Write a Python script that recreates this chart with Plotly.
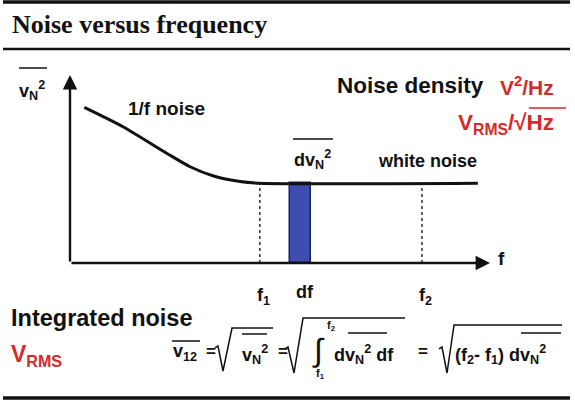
import plotly.graph_objects as go

W, H = 575, 406

# noise density curve (arbitrary units): 1/f region falling into white noise floor
freq = [0.34, 1.26, 2.30, 2.86, 3.40, 4.05, 4.52, 9.71]
density = [8.28, 7.25, 5.84, 5.12, 4.64, 4.33, 4.24, 4.24]
f1, f2 = 4.52, 8.38
df_center, df_width = 5.49, 0.5
white_level = 4.24

BLACK = '#111111'
RED = '#d42a2a'
SANS = 'Liberation Sans'


def xp(x):
    return x / W


def yp(y):
    return 1 - y / H


fig = go.Figure()

fig.add_trace(go.Scatter(
    x=freq, y=density, mode='lines',
    line=dict(color=BLACK, width=3, shape='spline', smoothing=0.8),
    hoverinfo='skip', showlegend=False
))

fig.add_trace(go.Bar(
    x=[df_center], y=[white_level], width=[df_width],
    marker=dict(color='#3d4db2', line=dict(color='#1a2260', width=1.5)),
    hoverinfo='skip', showlegend=False
))

shapes = []
annotations = []

# dotted markers at f1 and f2
for fx in (f1, f2):
    shapes.append(dict(type='line', xref='x', yref='y', x0=fx, x1=fx,
                       y0=0, y1=white_level,
                       line=dict(color=BLACK, width=1.3, dash='dot')))

# axes with arrows
for (x, y) in ((0, 10), (10, 0)):
    annotations.append(dict(x=x, y=y, ax=0, ay=0, xref='x', yref='y',
                            axref='x', ayref='y', text='', showarrow=True,
                            arrowhead=2, arrowsize=1.2, arrowwidth=2.4,
                            arrowcolor=BLACK))


def hline(x0, x1, y, w=1.5, color=BLACK):
    shapes.append(dict(type='line', xref='paper', yref='paper',
                       x0=xp(x0), x1=xp(x1), y0=yp(y), y1=yp(y),
                       line=dict(color=color, width=w)))


def radical(pts, w=1.5):
    path = 'M ' + ' L '.join(f'{xp(a):.4f},{yp(b):.4f}' for a, b in pts)
    shapes.append(dict(type='path', xref='paper', yref='paper', path=path,
                       line=dict(color=BLACK, width=w)))


def label(text, x, y, size, color=BLACK, xanchor='left', family=SANS,
          weight='bold'):
    annotations.append(dict(x=xp(x), y=yp(y), xref='paper', yref='paper',
                            text=text, showarrow=False, xanchor=xanchor,
                            yanchor='middle', borderpad=0,
                            font=dict(family=family, size=size, color=color,
                                      weight=weight)))


# frame lines
hline(3, 570, 2, w=3.5)
hline(3, 570, 49, w=2.5)
hline(3, 570, 398, w=3.5)

label('Noise versus frequency', 11, 24, 26, family='Liberation Serif')

# axis labels
label('v<sub>N</sub><sup>2</sup>', 18, 90, 18)
hline(19, 47, 68, w=1.5)
label('f', 497, 258, 19)
label('f<sub>1</sub>', 263, 296, 18, xanchor='center')
label('df', 305, 292, 18, xanchor='center')
label('f<sub>2</sub>', 425, 296, 18, xanchor='center')

# curve labels
label('1/f noise', 127, 109, 19)
label('white noise', 377, 161, 18)
label('dv<sub>N</sub><sup>2</sup>', 293, 159, 18)
hline(293, 333, 139, w=1.5)

# units
label('Noise density', 336, 86, 22.5)
label('V<sup>2</sup>/Hz', 499, 86, 21, color=RED)
label('V<sub>RMS</sub>/√Hz', 457, 124, 22.5, color=RED)
hline(529, 566, 108, w=1.5, color=RED)

# integrated noise
label('Integrated noise', 10, 318, 23.5)
label('V<sub>RMS</sub>', 10, 355, 23, color=RED)

# equation
label('v<sub>12</sub>', 172, 352, 18)
hline(172, 200, 341)
label('=', 205, 351, 17)
radical([(215, 348), (218, 346), (223, 371), (232, 328), (273, 328)])
label('v<sub>N</sub><sup>2</sup>', 241, 354, 18)
hline(242, 267, 334)
label('=', 277, 351, 17)
radical([(285, 349), (288, 347), (294, 373), (303, 318), (405, 318)])
label('∫', 311, 350, 32, weight='normal')
label('f<sub>2</sub>', 326, 326, 11)
label('f<sub>1</sub>', 315, 374, 11)
label('dv<sub>N</sub><sup>2</sup> df', 333, 354, 18)
hline(348, 387, 333)
label('=', 417, 351, 17)
radical([(439, 349), (442, 347), (447, 373), (454, 325), (562, 325)])
label('(f<sub>2</sub>- f<sub>1</sub>) dv<sub>N</sub><sup>2</sup>', 454, 354, 18)
hline(521, 561, 333)

fig.update_layout(
    width=W, height=H,
    margin=dict(l=0, r=0, t=0, b=0),
    paper_bgcolor='white', plot_bgcolor='rgba(0,0,0,0)',
    xaxis=dict(domain=[70 / W, 490 / W], range=[0, 10], visible=False,
               fixedrange=True),
    yaxis=dict(domain=[1 - 263 / H, 1 - 75 / H], range=[0, 10],
               visible=False, fixedrange=True),
    shapes=shapes, annotations=annotations,
    showlegend=False, bargap=0,
)

fig.write_html('out.html', config=dict(displayModeBar=False),
               post_script="document.body.style.margin='0';")
